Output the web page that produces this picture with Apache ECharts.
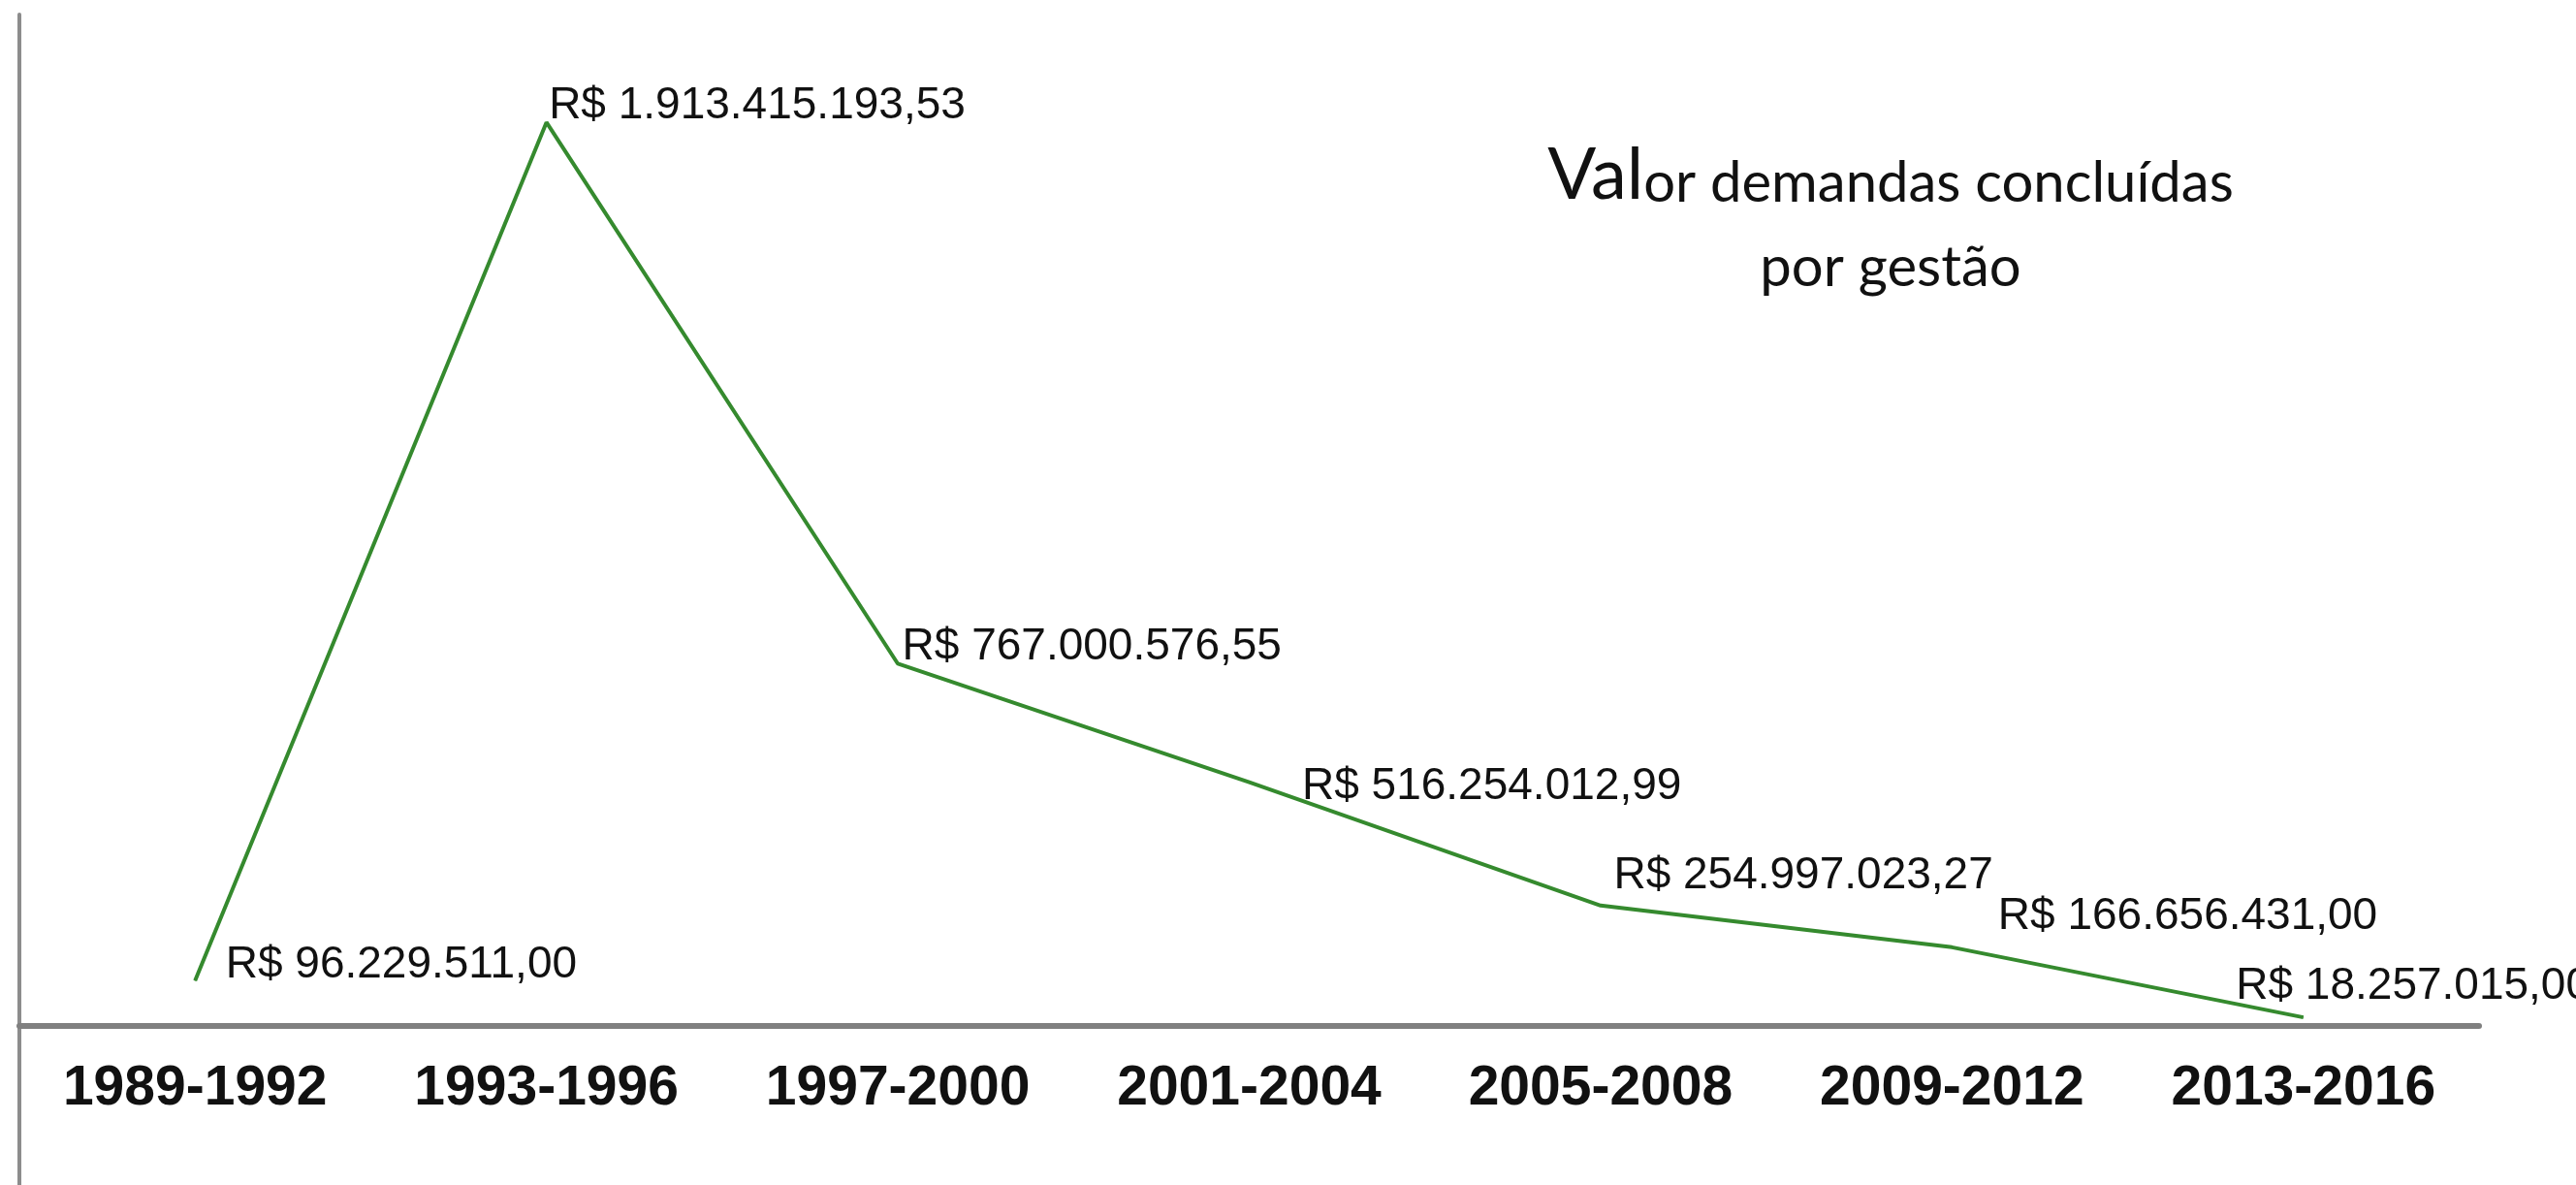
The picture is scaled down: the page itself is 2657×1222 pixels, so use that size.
<!DOCTYPE html>
<html><head><meta charset="utf-8">
<script src="https://cdn.jsdelivr.net/npm/echarts@6/dist/echarts.min.js"></script>
<style>html,body{margin:0;padding:0;background:#fff}#c{width:2657px;height:1222px}</style>
</head><body><div id="c"></div>
<script>
const categories = ['1989-1992', '1993-1996', '1997-2000', '2001-2004', '2005-2008', '2009-2012', '2013-2016'];
const values = [96229511.00, 1913415193.53, 767000576.55, 516254012.99, 254997023.27, 166656431.00, 18257015.00];
const titleBig = 'Val';
const titleRest = 'or demandas concluídas';
const titleLine2 = 'por gestão';

// label placement (layout only)
const labelOffsets = [[32, -15], [3, -16], [5, -17], [55, 5], [14, -30], [48, -31], [-69, -31]];

function brl(v) {
  const fixed = v.toFixed(2);
  const [intPart, dec] = fixed.split('.');
  const withDots = intPart.replace(/\B(?=(\d{3})+(?!\d))/g, '.');
  return 'R$ ' + withDots + ',' + dec;
}

const chart = echarts.init(document.getElementById('c'));
chart.setOption({
  backgroundColor: '#ffffff',
  animation: false,
  grid: [
    { left: 20, right: 100, top: 15, bottom: 164, containLabel: false, outerBoundsMode: 'none' },
    { left: 20, right: 100, top: 1058, bottom: 0, containLabel: false, outerBoundsMode: 'none' }
  ],
  xAxis: [{
    gridIndex: 0,
    type: 'category',
    data: categories,
    boundaryGap: true,
    z: 5,
    axisLine: { show: true, onZero: false, lineStyle: { color: '#808080', width: 6 } },
    axisTick: { show: false },
    axisLabel: {
      interval: 0,
      margin: 37,
      color: '#111',
      fontSize: 57,
      fontWeight: 'bold',
      fontFamily: "'Liberation Sans', Arial, sans-serif"
    },
    splitLine: { show: false }
  }, {
    gridIndex: 1,
    type: 'category',
    data: categories,
    show: false
  }],
  yAxis: [{
    gridIndex: 0,
    type: 'value',
    min: 0,
    max: 2141.7e6,
    axisLine: { show: true, onZero: false, lineStyle: { color: '#8c8c8c', width: 4 } },
    axisTick: { show: false },
    axisLabel: { show: false },
    splitLine: { show: false }
  }, {
    gridIndex: 1,
    type: 'value',
    min: 0,
    max: 1,
    axisLine: { show: true, onZero: false, lineStyle: { color: '#8c8c8c', width: 4 } },
    axisTick: { show: false },
    axisLabel: { show: false },
    splitLine: { show: false }
  }],
  graphic: [
    {
      type: 'text', x: 1950, y: 218, z: 10,
      style: {
        text: '{b|' + titleBig + '}{s|' + titleRest + '}',
        align: 'center', verticalAlign: 'bottom',
        rich: {
          b: { fontSize: 74, fontFamily: 'Lato', fill: '#111', verticalAlign: 'bottom' },
          s: { fontSize: 58, fontFamily: 'Lato', fill: '#111', verticalAlign: 'bottom' }
        }
      }
    },
    {
      type: 'text', x: 1950, y: 305, z: 10,
      style: {
        text: titleLine2, align: 'center', verticalAlign: 'bottom',
        fontSize: 58, fontFamily: 'Lato', fill: '#111'
      }
    }
  ],
  series: [{
    type: 'line',
    xAxisIndex: 0,
    yAxisIndex: 0,
    data: values.map((v, i) => ({
      value: v,
      label: { position: labelOffsets[i] }
    })),
    symbol: 'circle',
    symbolSize: 1,
    showSymbol: true,
    lineStyle: { color: '#358a2e', width: 4 },
    itemStyle: { color: '#358a2e' },
    label: {
      show: true,
      align: 'left',
      verticalAlign: 'middle',
      color: '#111',
      fontSize: 46,
      fontFamily: "'Liberation Sans', Arial, sans-serif",
      formatter: p => brl(p.value)
    }
  }]
});
</script>
</body></html>
